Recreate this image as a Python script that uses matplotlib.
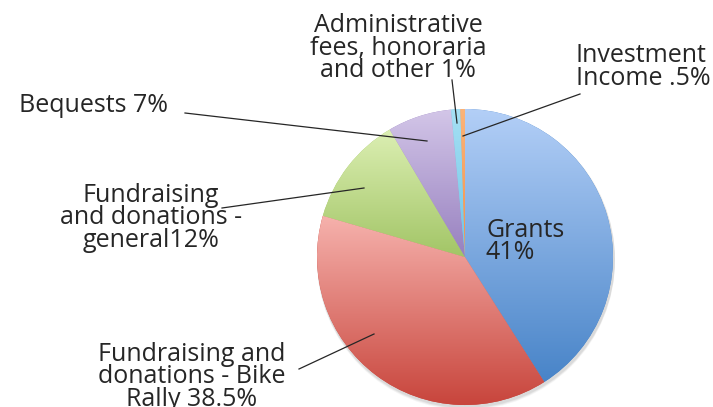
import numpy as np
import matplotlib
matplotlib.use("Agg")
import matplotlib.pyplot as plt
from matplotlib.patches import Circle

# data
labels = ["Grants", "Fundraising and donations - Bike Rally", "Fundraising and donations - general",
          "Bequests", "Administrative fees, honoraria and other", "Investment Income"]
shares = [41, 38.5, 12, 7, 1, 0.5]
label_texts = ["Grants\n41%", "Fundraising and\ndonations - Bike\nRally 38.5%",
               "Fundraising\nand donations -\ngeneral12%", "Bequests 7%",
               "Administrative\nfees, honoraria\nand other 1%", "Investment\nIncome .5%"]

# (top colour, bottom colour) for each slice gradient
grad_colors = [("#b3cff7", "#4884c8"), ("#f6b2ad", "#c8453c"), ("#dcefb3", "#a2c566"),
               ("#d3c6e8", "#9780bf"), ("#a6e0f4", "#6fc4e6"), ("#fbb47a", "#f2914a")]

W, H = 713, 407
fig = plt.figure(figsize=(W / 100, H / 100), dpi=100)
ax = fig.add_axes([0, 0, 1, 1])

cx, cy, R = 465, H - 257, 148

# soft shadow
for k, a in [(4, 0.04), (3, 0.05), (2, 0.06)]:
    ax.add_patch(Circle((cx + 1, cy - k), R + 1, color="k", alpha=a, lw=0, zorder=0))

wedges, _ = ax.pie(shares, startangle=90, counterclock=False, center=(cx, cy), radius=R,
                   colors=[c[1] for c in grad_colors], wedgeprops=dict(linewidth=0))

for w, (top, bot) in zip(wedges, grad_colors):
    w.set_zorder(1)
    ext = w.get_path().get_extents()
    t = np.linspace(0, 1, 256)[:, None]
    c0 = np.array(matplotlib.colors.to_rgb(bot))
    c1 = np.array(matplotlib.colors.to_rgb(top))
    img = (c0 + (c1 - c0) * t)[:, None, :]
    im = ax.imshow(img, extent=[ext.x0, ext.x1, ext.y0, ext.y1], origin="lower",
                   aspect="auto", zorder=2, interpolation="bilinear")
    im.set_clip_path(w)

txt = dict(fontsize=18, color="#262626", family="Open Sans", linespacing=0.86)

def fy(y):
    return H - y

ax.text(486, fy(218), label_texts[0], ha="left", va="top", zorder=5, **txt)
ax.text(192, fy(342), label_texts[1], ha="center", va="top", multialignment="center", **txt)
ax.text(151, fy(218), label_texts[2], ha="center", va="center", multialignment="center", **txt)
ax.text(19, fy(106), label_texts[3], ha="left", va="center", **txt)
ax.text(398, fy(48), label_texts[4], ha="center", va="center", multialignment="center", **txt)
ax.text(576, fy(67), label_texts[5], ha="left", va="center", multialignment="left", **txt)

# leader lines
leaders = [((299, 369), (374, 334)), ((222, 208), (364, 188)), ((185, 113), (427, 141)),
           ((452, 80), (457, 123)), ((580, 94), (463, 136))]
for (x0, y0), (x1, y1) in leaders:
    ax.plot([x0, x1], [fy(y0), fy(y1)], color="#262626", lw=0.9, zorder=4)

ax.set_xlim(0, W)
ax.set_ylim(0, H)
ax.axis("off")
fig.savefig("out.png", dpi=100)
